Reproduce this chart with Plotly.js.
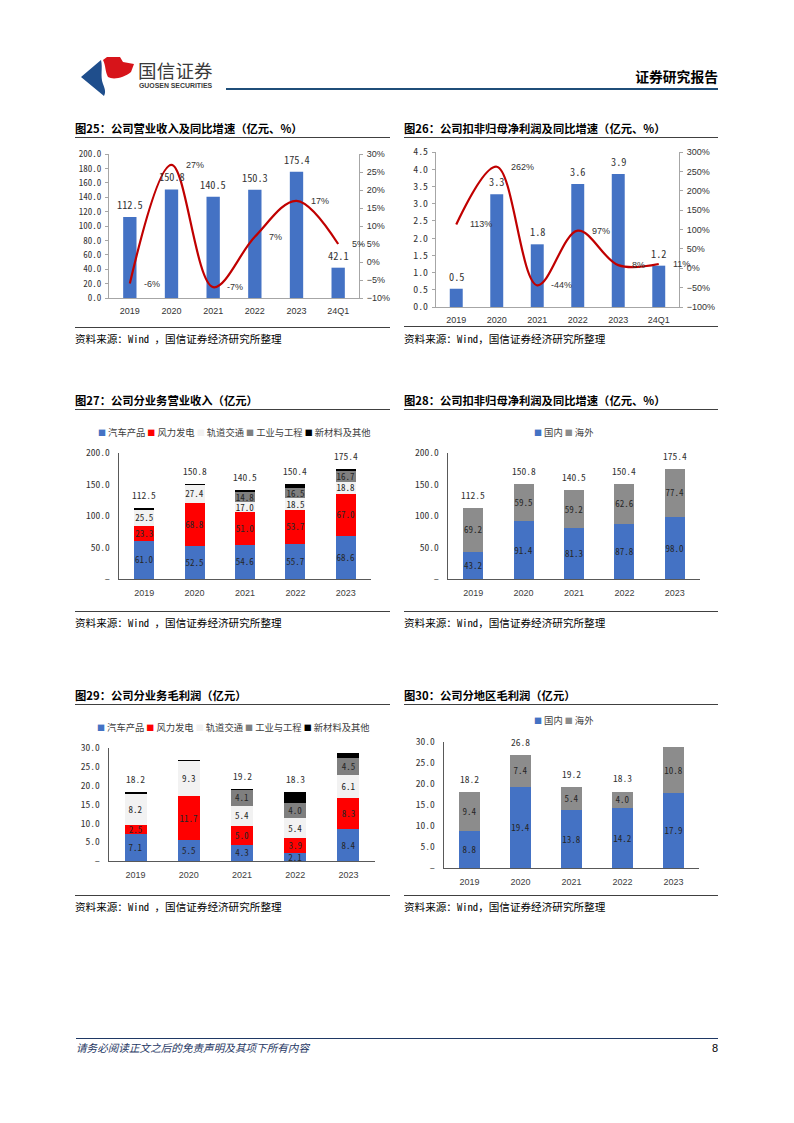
<!DOCTYPE html>
<html><head><meta charset="utf-8">
<script src="https://cdn.plot.ly/plotly-3.0.1.min.js"></script>
<style>
body{margin:0;background:#fff;}
#page{position:relative;width:794px;height:1123px;overflow:hidden;background:#fff;font-family:"Noto Sans CJK SC",sans-serif;}
.t{position:absolute;white-space:nowrap;}
.title{font-weight:bold;font-size:11.3px;color:#000;line-height:14px;height:14px;}
.rule{position:absolute;height:0;border-top:1.5px solid #404040;}
.src{font-family:"Noto Sans Mono CJK SC","Noto Sans CJK SC",monospace;font-size:10.6px;line-height:13px;height:13px;color:#000;}
.chart{position:absolute;}
</style></head>
<body>
<div id="page">
  <svg class="t" style="left:0;top:0" width="794" height="120" viewBox="0 0 794 120">
    <path d="M81,77 L101,60 C103,68 100,76 103,84 C105,89 106,92 104,96 Z" fill="#1F4E8C"/>
    <path d="M103,60 L107,57 L120,57 L123,62 L134,64 L131,72 C124,78 113,80 108,77 C105,72 106,66 103,60 Z" fill="#D7141A"/>
  </svg>
  <div class="t" style="left:138px;top:59px;font-size:18.5px;line-height:22px;color:#3a3a3a;letter-spacing:0.2px;">国信证券</div>
  <div class="t" style="left:139px;top:81px;font-family:'Liberation Sans',Arial,sans-serif;font-weight:bold;font-size:6.9px;line-height:9px;color:#3a3a3a;">GUOSEN SECURITIES</div>
  <div class="t" style="right:76px;top:68px;font-size:13.8px;line-height:17px;font-weight:bold;color:#000;">证券研究报告</div>
  <div class="rule" style="left:226px;width:492px;top:88px;border-top:2px solid #1F4E79;"></div>

  <div class="t title" style="left:75px;top:121px;">图25：公司营业收入及同比增速（亿元、%）</div>
  <div class="rule" style="left:75px;width:315px;top:136.5px;"></div>
  <div id="c25" class="chart"></div>
  <div class="rule" style="left:75px;width:315px;top:326.5px;"></div>
  <div class="t src" style="left:75px;top:332px;">资料来源：Wind ，国信证券经济研究所整理</div>

  <div class="t title" style="left:404px;top:121px;">图26：公司扣非归母净利润及同比增速（亿元、%）</div>
  <div class="rule" style="left:404px;width:314px;top:137px;"></div>
  <div id="c26" class="chart"></div>
  <div class="rule" style="left:404px;width:314px;top:326px;"></div>
  <div class="t src" style="left:404px;top:332px;">资料来源：Wind，国信证券经济研究所整理</div>

  <div class="t title" style="left:75px;top:393px;">图27：公司分业务营业收入（亿元）</div>
  <div class="rule" style="left:75px;width:315px;top:408.5px;"></div>
  <div id="c27" class="chart"></div>
  <div class="rule" style="left:75px;width:315px;top:611px;"></div>
  <div class="t src" style="left:75px;top:616px;">资料来源：Wind ，国信证券经济研究所整理</div>

  <div class="t title" style="left:404px;top:393px;">图28：公司扣非归母净利润及同比增速（亿元、%）</div>
  <div class="rule" style="left:404px;width:314px;top:408.5px;"></div>
  <div id="c28" class="chart"></div>
  <div class="rule" style="left:404px;width:314px;top:611px;"></div>
  <div class="t src" style="left:404px;top:616px;">资料来源：Wind，国信证券经济研究所整理</div>

  <div class="t title" style="left:75px;top:688px;">图29：公司分业务毛利润（亿元）</div>
  <div class="rule" style="left:75px;width:315px;top:704px;"></div>
  <div id="c29" class="chart"></div>
  <div class="rule" style="left:75px;width:315px;top:895px;"></div>
  <div class="t src" style="left:75px;top:900px;">资料来源：Wind ，国信证券经济研究所整理</div>

  <div class="t title" style="left:404px;top:688px;">图30：公司分地区毛利润（亿元）</div>
  <div class="rule" style="left:404px;width:314px;top:703.5px;"></div>
  <div id="c30" class="chart"></div>
  <div class="rule" style="left:404px;width:314px;top:894.5px;"></div>
  <div class="t src" style="left:404px;top:900px;">资料来源：Wind，国信证券经济研究所整理</div>

  <div class="rule" style="left:76px;width:642px;top:1038px;border-top:1.5px solid #1F3864;"></div>
  <div class="t" style="left:76px;top:1041px;font-size:10.6px;line-height:14px;font-style:italic;color:#1F3864;">请务必阅读正文之后的免责声明及其项下所有内容</div>
  <div class="t" style="right:76px;top:1041px;font-family:'Liberation Sans',Arial,sans-serif;font-size:11px;line-height:14px;color:#000;">8</div>
</div>

<script>
// ---------------- DATA ----------------
const cat25 = ['2019','2020','2021','2022','2023','24Q1'];
const revenue25 = [112.5, 150.8, 140.5, 150.3, 175.4, 42.1];
const growth25 = [-6, 27, -7, 7, 17, 5];

const cat26 = ['2019','2020','2021','2022','2023','24Q1'];
const profit26 = [0.53, 3.27, 1.82, 3.57, 3.86, 1.20];
const growth26 = [113, 262, -44, 97, 8, 11];

const cat27 = ['2019','2020','2021','2022','2023'];
const segNames = ['汽车产品','风力发电','轨道交通','工业与工程','新材料及其他'];
const auto27  = [61.0, 52.5, 54.6, 55.7, 68.6];
const wind27  = [23.3, 68.8, 51.0, 53.7, 67.0];
const rail27  = [25.5, 27.4, 17.0, 18.5, 18.8];
const ind27   = [0, 0, 14.8, 16.5, 16.7];
const other27 = [2.7, 2.1, 3.1, 6.0, 4.3];
const total27 = [112.5, 150.8, 140.5, 150.4, 175.4];
const totalLabel27 = ['112.5','150.8','140.5','150.4','175.4'];

const cat28 = ['2019','2020','2021','2022','2023'];
const regionNames = ['国内','海外'];
const domestic28 = [43.2, 91.4, 81.3, 87.8, 98.0];
const overseas28 = [69.2, 59.5, 59.2, 62.6, 77.4];
const total28 = [112.5, 150.8, 140.5, 150.4, 175.4];
const totalLabel28 = ['112.5','150.8','140.5','150.4','175.4'];

const cat29 = ['2019','2020','2021','2022','2023'];
const auto29  = [7.1, 5.5, 4.3, 2.1, 8.4];
const wind29  = [2.5, 11.7, 5.0, 3.9, 8.3];
const rail29  = [8.2, 9.3, 5.4, 5.4, 6.1];
const ind29   = [0, 0, 4.1, 4.0, 4.5];
const other29 = [0.4, 0.3, 0.4, 2.9, 1.4];
const total29 = [18.2, 26.8, 19.2, 18.3, 28.7];
const totalLabel29 = ['18.2','','19.2','18.3',''];

const cat30 = ['2019','2020','2021','2022','2023'];
const domestic30 = [8.8, 19.4, 13.8, 14.2, 17.9];
const overseas30 = [9.4, 7.4, 5.4, 4.0, 10.8];
const total30 = [18.2, 26.8, 19.2, 18.3, 28.7];
const totalLabel30 = ['18.2','26.8','19.2','18.3',''];

// ---------------- STYLE ----------------
const F_CJK  = '"Noto Sans CJK SC", sans-serif';
const F_MONO = '"Noto Sans Mono CJK SC", "DejaVu Sans Mono", monospace';
const F_LAT  = '"Liberation Sans", Arial, sans-serif';
const BLUE = '#4472C4', RED = '#FF0000', LIGHT = '#F2F2F2', GRAY = '#7F7F7F', BLACK = '#000000';
const GRAY2 = '#8C8C8C';
const segColors = [BLUE, RED, LIGHT, GRAY, BLACK];
const regionColors = [BLUE, GRAY2];

function setup(id, box, plot){
  const el = document.getElementById(id);
  el.style.left = box.x+'px'; el.style.top = box.y+'px';
  el.style.width = box.w+'px'; el.style.height = box.h+'px';
  return {
    width: box.w, height: box.h,
    margin: {l: plot.x0-box.x, r: (box.x+box.w)-plot.x1, t: plot.y0-box.y, b: (box.y+box.h)-plot.y1, pad: 0},
    paper_bgcolor: 'rgba(0,0,0,0)', plot_bgcolor: 'rgba(0,0,0,0)',
    showlegend: false, hovermode: false
  };
}
const pxX = (plot, px) => (px-plot.x0)/(plot.x1-plot.x0);
const pxY = (plot, py) => (plot.y1-py)/(plot.y1-plot.y0);
const cfg = {staticPlot: true, displayModeBar: false};

// ---------- combo (bar + smooth line) ----------
function combo(id, box, plot, cats, bars, growth, yRange, yStep, y2Range, y2Step, tickSize){
  const layout = setup(id, box, plot);
  const traces = [
    {type:'bar', x:cats, y:bars, width:0.32, marker:{color:BLUE}, hoverinfo:'skip'},
    {type:'scatter', mode:'lines', x:cats, y:growth, yaxis:'y2',
     line:{color:'#C00000', width:2.2, shape:'spline', smoothing:1.0}, hoverinfo:'skip'}
  ];
  const axLine = '#A6A6A6';
  layout.xaxis = {type:'category', range:[-0.5, cats.length-0.5], autorange:false,
    showline:true, linecolor:axLine, linewidth:1, ticks:'', showgrid:false,
    tickfont:{family:F_LAT, size:9, color:'#333'}, ticklabelstandoff:4};
  layout.yaxis = {range:yRange, dtick:yStep, tick0:0, tickformat:'.1f', showgrid:false, zeroline:false,
    showline:true, linecolor:axLine, ticks:'outside', ticklen:3, tickcolor:axLine,
    tickfont:{family:F_MONO, size:tickSize, color:'#333'}, ticklabelstandoff:2};
  layout.yaxis2 = {overlaying:'y', side:'right', range:y2Range, dtick:y2Step, tick0:0, ticksuffix:'%',
    showgrid:false, zeroline:false, showline:true, linecolor:axLine, ticks:'outside', ticklen:3, tickcolor:axLine,
    tickfont:{family:F_LAT, size:9, color:'#333'}, ticklabelstandoff:2};
  const ann = [];
  cats.forEach((c,i)=>{
    ann.push({x:i, y:bars[i], xref:'x', yref:'y', text:bars[i].toFixed(1), showarrow:false,
      yanchor:'middle', yshift:12.5, font:{family:F_MONO, size:10.3, color:'#333'}});
    ann.push({x:i, y:growth[i], xref:'x', yref:'y2', text:growth[i]+'%', showarrow:false,
      xanchor:'left', xshift:12, yanchor:'middle', font:{family:F_LAT, size:9, color:'#333'}});
  });
  layout.annotations = ann;
  Plotly.newPlot(id, traces, layout, cfg);
}

combo('c25', {x:70, y:142, w:325, h:183}, {x0:109, x1:359, y0:154.3, y1:297.7},
  cat25, revenue25, growth25, [0,200], 20, [-10,30], 5, 9);
combo('c26', {x:400, y:142, w:325, h:183}, {x0:436, x1:679, y0:152.3, y1:306.7},
  cat26, profit26, growth26, [0,4.5], 0.5, [-100,300], 50, 9.8);

// ---------- stacked ----------
function stacked(id, box, plot, cats, series, colors, names, labelled, totals, totalLabels, yMax, yStep, barW, legend){
  const layout = setup(id, box, plot);
  layout.barmode = 'stack';
  layout.uniformtext = {mode:'show', minsize:9};
  const traces = series.map((vals, k)=>({
    type:'bar', x:cats, y:vals, width:barW, name:names[k], marker:{color:colors[k], line:{width:0}},
    text: labelled[k] ? vals.map(v => v>0 ? v.toFixed(1) : '') : vals.map(()=>''),
    textposition:'inside', insidetextanchor:'middle', textangle:0, constraintext:'none',
    insidetextfont:{family:F_MONO, size:9, color:'#262626'}, hoverinfo:'skip', cliponaxis:false
  }));
  const tv = []; for(let v=0; v<=yMax+1e-9; v+=yStep) tv.push(v);
  const axc = '#595959';
  layout.xaxis = {type:'category', range:[-0.5, cats.length-0.5], autorange:false,
    showline:true, linecolor:axc, linewidth:1.3, ticks:'', showgrid:false,
    tickfont:{family:F_LAT, size:9, color:'#404040'}, ticklabelstandoff:5};
  layout.yaxis = {range:[0,yMax], autorange:false, tickvals:tv, ticktext:tv.map(v=> v===0 ? '–' : v.toFixed(1)),
    showgrid:false, zeroline:false, showline:true, linecolor:axc, linewidth:1.3, ticks:'',
    tickfont:{family:F_MONO, size:9.5, color:'#333'}, ticklabelstandoff:6};
  const ann = [];
  cats.forEach((c,i)=>{
    if(totalLabels[i]) ann.push({x:i, y:totals[i], xref:'x', yref:'y', text:totalLabels[i], showarrow:false,
      yanchor:'middle', yshift:13, font:{family:F_MONO, size:9.5, color:'#333'}});
  });
  const legText = names.map((n,k)=>`<span style="color:${colors[k]};font-size:8px">■</span>\u00a0${n}`).join('\u00a0');
  ann.push({xref:'paper', yref:'paper', x:pxX(plot, legend.x), y:pxY(plot, legend.y), xanchor:'left', yanchor:'middle',
    text:legText, showarrow:false, font:{family:F_CJK, size:9.3, color:'#404040'}});
  layout.annotations = ann;
  Plotly.newPlot(id, traces, layout, cfg);
}

stacked('c27', {x:70, y:412, w:325, h:198}, {x0:118.7, x1:370.7, y0:452.7, y1:579.3},
  cat27, [auto27, wind27, rail27, ind27, other27], segColors, segNames, [true,true,true,true,false],
  total27, totalLabel27, 200, 50, 0.40, {x:95.5, y:431.7});
stacked('c28', {x:400, y:412, w:325, h:198}, {x0:447.8, x1:699.8, y0:452.7, y1:579.3},
  cat28, [domestic28, overseas28], regionColors, regionNames, [true,true],
  total28, totalLabel28, 200, 50, 0.40, {x:532, y:431.7});
stacked('c29', {x:70, y:708, w:325, h:186}, {x0:109.3, x1:375.5, y0:748.3, y1:861},
  cat29, [auto29, wind29, rail29, ind29, other29], segColors, segNames, [true,true,true,true,false],
  total29, totalLabel29, 30, 5, 0.41, {x:95.5, y:727.7});
stacked('c30', {x:400, y:708, w:325, h:186}, {x0:444.2, x1:699.3, y0:742.3, y1:868.3},
  cat30, [domestic30, overseas30], regionColors, regionNames, [true,true],
  total30, totalLabel30, 30, 5, 0.40, {x:532, y:720});
</script>
</body></html>
